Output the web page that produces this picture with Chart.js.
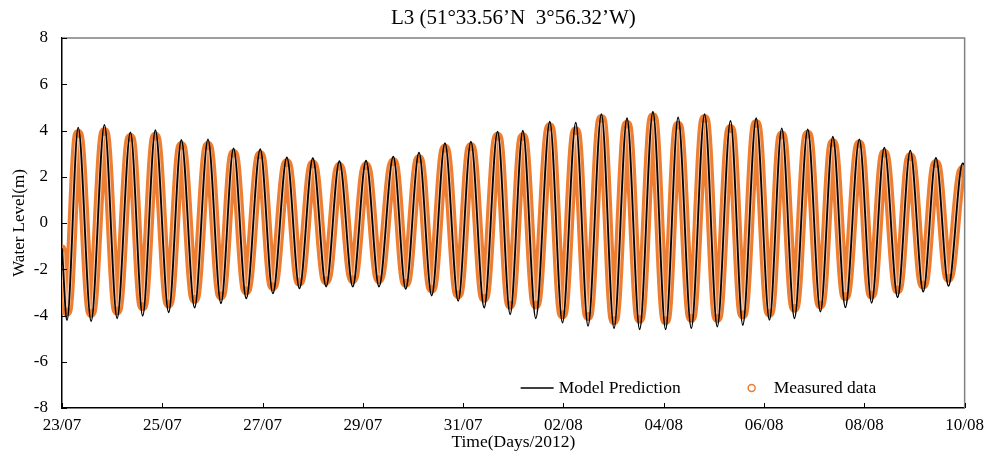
<!DOCTYPE html>
<html>
<head>
<meta charset="utf-8">
<script src="https://cdn.jsdelivr.net/npm/chart.js@4.4.1/dist/chart.umd.min.js"></script>
<style>
  html, body { margin: 0; padding: 0; background: #fff; }
  #wrap { width: 991px; height: 453px; }
</style>
</head>
<body>
<div id="wrap"><canvas id="tideChart"></canvas></div>
<script>
// high / low water times, in days since 23/07/2012 00:00
const tideDays = [0, 0.10, 0.323, 0.581, 0.846, 1.099, 1.364, 1.609, 1.862, 2.127, 2.380,
  2.644, 2.911, 3.170, 3.421, 3.674, 3.953, 4.205, 4.484, 4.735, 5.002, 5.267, 5.532,
  5.798, 6.063, 6.322, 6.607, 6.854, 7.119, 7.372, 7.637, 7.901, 8.154, 8.419, 8.686,
  8.937, 9.190, 9.448, 9.727, 9.980, 10.245, 10.490, 10.757, 11.008, 11.267, 11.519,
  11.784, 12.037, 12.286, 12.549, 12.814, 13.067, 13.331, 13.576, 13.843, 14.108,
  14.353, 14.606, 14.871, 15.124, 15.372, 15.621, 15.900, 16.145, 16.398, 16.663,
  16.916, 17.174, 17.427, 17.678, 17.96, 18.0];

// model water level (m)
const modelLevel = [-1.1, -4.20, 4.12, -4.24, 4.24, -4.12, 3.92, -4.01, 4.01, -3.86, 3.59,
  -3.66, 3.62, -3.47, 3.23, -3.26, 3.19, -3.04, 2.84, -2.83, 2.80, -2.75, 2.68,
  -2.75, 2.70, -2.75, 2.87, -2.85, 3.04, -3.14, 3.45, -3.37, 3.52, -3.66, 3.95,
  -3.95, 3.99, -4.12, 4.38, -4.31, 4.34, -4.45, 4.71, -4.55, 4.53, -4.60,
  4.81, -4.60, 4.57, -4.55, 4.71, -4.48, 4.42, -4.41, 4.53, -4.19,
  4.09, -4.12, 4.05, -3.83, 3.73, -3.65, 3.62, -3.45, 3.26, -3.21,
  3.13, -2.97, 2.82, -2.72, 2.58, 2.50];

// measured water level (m)
const measuredLevel = [-1.1, -3.83, 3.85, -3.88, 3.93, -3.78, 3.68, -3.59, 3.73, -3.48, 3.33,
  -3.28, 3.33, -3.13, 2.98, -2.91, 2.93, -2.73, 2.58, -2.53, 2.53, -2.48, 2.43,
  -2.43, 2.45, -2.43, 2.63, -2.58, 2.76, -2.83, 3.21, -3.08, 3.28, -3.23, 3.73,
  -3.53, 3.71, -3.52, 4.14, -3.95, 3.97, -4.02, 4.50, -4.20, 4.25, -4.14,
  4.57, -4.20, 4.21, -4.10, 4.50, -4.10, 4.07, -3.95, 4.28, -3.88,
  3.78, -3.66, 3.82, -3.52, 3.45, -3.16, 3.39, -3.09, 2.99, -2.87,
  2.84, -2.66, 2.55, -2.37, 2.30, 2.10];

const dateTickDays = [0, 2, 4, 6, 8, 10, 12, 14, 16, 18];
const dateTickLabels = ['23/07', '25/07', '27/07', '29/07', '31/07', '02/08', '04/08', '06/08', '08/08', '10/08'];
const levelTicks = [-8, -6, -4, -2, 0, 2, 4, 6, 8];

const serif = 'Liberation Serif, Times New Roman, serif';
const orange = '#ED7D31';

const toPoints = ys => tideDays.map((d, i) => ({ x: d, y: ys[i] }));

// top/right frame and inward tick marks
const frameTicks = {
  id: 'frameTicks',
  afterDatasetsDraw(chart) {
    const { ctx, chartArea: a, scales } = chart;
    ctx.save();
    ctx.strokeStyle = '#808080';
    ctx.lineWidth = 1.5;
    ctx.beginPath();
    ctx.moveTo(a.left, a.top);
    ctx.lineTo(a.right, a.top);
    ctx.lineTo(a.right, a.bottom);
    ctx.stroke();
    ctx.strokeStyle = '#000';
    ctx.lineWidth = 1;
    ctx.beginPath();
    scales.x.ticks.forEach(t => {
      const px = Math.round(scales.x.getPixelForValue(t.value)) + 0.5;
      ctx.moveTo(px, a.bottom);
      ctx.lineTo(px, a.bottom - 5);
    });
    scales.y.ticks.forEach(t => {
      const py = Math.round(scales.y.getPixelForValue(t.value)) + 0.5;
      ctx.moveTo(a.left, py);
      ctx.lineTo(a.left + 5, py);
    });
    ctx.stroke();
    ctx.restore();
  }
};

// legend sitting inside the plot, lower right
const innerLegend = {
  id: 'innerLegend',
  afterDraw(chart) {
    const { ctx, chartArea: a } = chart;
    const y = a.bottom - 20;
    ctx.save();
    ctx.font = '17.5px ' + serif;
    ctx.fillStyle = '#000';
    ctx.textBaseline = 'middle';
    ctx.strokeStyle = '#000';
    ctx.lineWidth = 1.5;
    ctx.beginPath();
    ctx.moveTo(a.right - 444, y);
    ctx.lineTo(a.right - 411, y);
    ctx.stroke();
    ctx.fillText('Model Prediction', a.right - 406, y);
    ctx.strokeStyle = orange;
    ctx.beginPath();
    ctx.arc(a.right - 213, y, 3.5, 0, Math.PI * 2);
    ctx.stroke();
    ctx.fillText('Measured data', a.right - 191, y);
    ctx.restore();
  }
};

new Chart(document.getElementById('tideChart'), {
  type: 'line',
  data: {
    datasets: [
      {
        label: 'Model Prediction',
        data: toPoints(modelLevel),
        borderColor: '#000',
        borderWidth: 1.8,
        pointRadius: 0,
        cubicInterpolationMode: 'monotone',
        order: 0
      },
      {
        // light inside of the measured ribbon, filled dots at high/low water
        label: 'Measured data core',
        data: toPoints(measuredLevel),
        borderColor: 'rgba(255,255,255,0.55)',
        borderWidth: 4,
        pointRadius: 4,
        pointBorderWidth: 0,
        pointBackgroundColor: orange,
        cubicInterpolationMode: 'monotone',
        order: 1
      },
      {
        label: 'Measured data',
        data: toPoints(measuredLevel),
        borderColor: orange,
        borderWidth: 10,
        pointRadius: 0,
        cubicInterpolationMode: 'monotone',
        order: 2
      }
    ]
  },
  options: {
    responsive: true,
    maintainAspectRatio: false,
    animation: false,
    devicePixelRatio: 1,
    layout: { padding: { left: 0, right: 25, top: 0, bottom: 0 } },
    plugins: {
      legend: { display: false },
      tooltip: { enabled: false },
      title: {
        display: true,
        fullSize: false,
        text: 'L3 (51°33.56’N  3°56.32’W)',
        color: '#000',
        font: { family: serif, size: 21, weight: 'normal' },
        padding: { top: 6, bottom: 6.8 }
      }
    },
    scales: {
      x: {
        type: 'linear',
        min: 0,
        max: 18,
        afterBuildTicks: s => { s.ticks = dateTickDays.map(v => ({ value: v })); },
        afterFit: s => { s.height = 45; },
        ticks: {
          autoSkip: false,
          maxRotation: 0,
          padding: 7,
          color: '#000',
          font: { family: serif, size: 17 },
          callback: (v, i) => dateTickLabels[i]
        },
        grid: { drawOnChartArea: false, drawTicks: false },
        border: { color: '#000', width: 1.5 },
        title: {
          display: true,
          text: 'Time(Days/2012)',
          color: '#000',
          font: { family: serif, size: 17.5 },
          padding: { top: -2, bottom: 0 }
        }
      },
      y: {
        min: -8,
        max: 8,
        afterBuildTicks: s => { s.ticks = levelTicks.map(v => ({ value: v })); },
        afterFit: s => { s.width = 62; },
        ticks: {
          padding: 14,
          color: '#000',
          font: { family: serif, size: 17 }
        },
        grid: { drawOnChartArea: false, drawTicks: false },
        border: { color: '#000', width: 1.5 },
        title: {
          display: true,
          text: 'Water Level(m)',
          color: '#000',
          font: { family: serif, size: 17 },
          padding: { top: 9, bottom: 0 }
        }
      }
    }
  },
  plugins: [frameTicks, innerLegend]
});
</script>
</body>
</html>
